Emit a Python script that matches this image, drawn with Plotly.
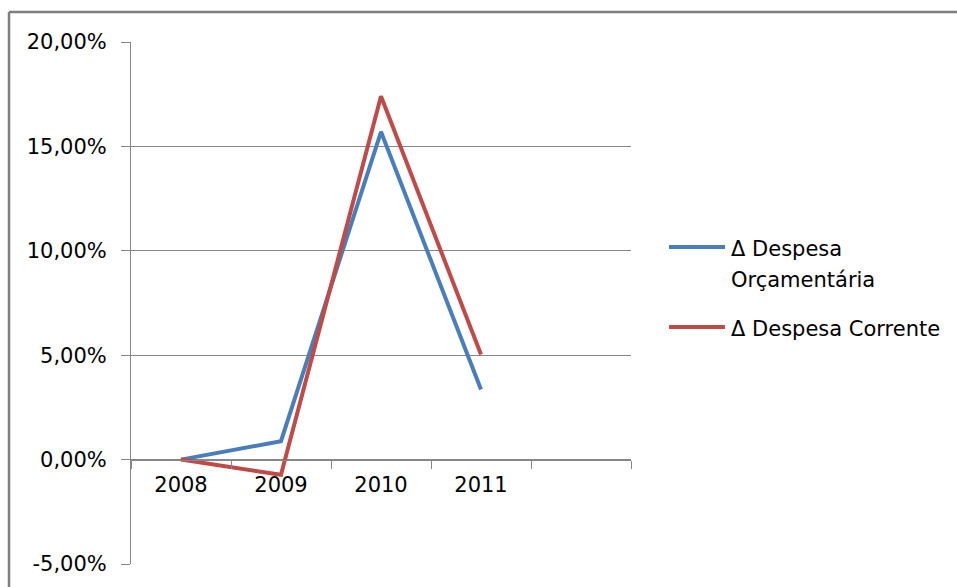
import plotly.graph_objects as go

# Years and percentage variations (fractions)
years = ["2008", "2009", "2010", "2011", " "]
orcamentaria = [0.0, 0.0088, 0.157, 0.0336]
corrente = [0.0, -0.0073, 0.174, 0.0503]

series_names = ["\u0394 Despesa Or\u00e7ament\u00e1ria", "\u0394 Despesa Corrente"]
series_colors = ["#4A7EBB", "#BE4B48"]

y_ticks = [-0.05, 0.0, 0.05, 0.10, 0.15, 0.20]
y_ticktext = [f"{v * 100:.2f}%".replace(".", ",") for v in y_ticks]

FONT = "DejaVu Sans"
FS = 21
GRID = "#868686"

fig = go.Figure()
for name, vals, col in zip(series_names, [orcamentaria, corrente], series_colors):
    fig.add_trace(go.Scatter(
        x=years[:len(vals)], y=vals, mode="lines", name=name,
        line=dict(color=col, width=4), showlegend=False,
    ))

W, H = 957, 587
L, R, T, B = 131, 326, 42, 23
pw, ph = W - L - R, H - T - B

def px_x(x):
    return (x - L) / pw

def px_y(y):
    return (H - B - y) / ph

fig.update_layout(
    width=W, height=H,
    margin=dict(l=L, r=R, t=T, b=B),
    paper_bgcolor="white", plot_bgcolor="white",
    font=dict(family=FONT, size=FS, color="black"),
    xaxis=dict(
        type="category", categoryorder="array", categoryarray=years,
        range=[-0.5, 4.5], tickson="boundaries",
        ticks="outside", ticklen=8, tickcolor=GRID, tickwidth=1,
        showline=True, linecolor=GRID, linewidth=1,
        showgrid=False, anchor="free",
        position=(0 - y_ticks[0]) / (y_ticks[-1] - y_ticks[0]),
        ticklabelstandoff=6, fixedrange=True,
    ),
    yaxis=dict(
        range=[y_ticks[0], y_ticks[-1]], tickvals=y_ticks, ticktext=y_ticktext,
        ticks="outside", ticklen=9, tickcolor=GRID, tickwidth=1,
        showgrid=True, gridcolor=GRID, gridwidth=1, zeroline=False,
        showline=True, linecolor=GRID, linewidth=1,
        ticklabelstandoff=10, fixedrange=True,
    ),
)

# Chart frame (top and left edges of the chart area)
frame = dict(color="#7f7f7f", width=2.5)
fig.add_shape(type="line", xref="paper", yref="paper",
              x0=px_x(9), x1=px_x(W), y0=px_y(12), y1=px_y(12), line=frame)
fig.add_shape(type="line", xref="paper", yref="paper",
              x0=px_x(9), x1=px_x(9), y0=px_y(12), y1=px_y(H), line=frame)

# Legend drawn at the right of the plot
legend_rows = [
    (247, [series_names[0].rsplit(" ", 1)[0], series_names[0].rsplit(" ", 1)[1]]),
    (327, [series_names[1]]),
]
for (ly, lines), col in zip(legend_rows, series_colors):
    fig.add_shape(type="line", xref="paper", yref="paper",
                  x0=px_x(669), x1=px_x(725), y0=px_y(ly), y1=px_y(ly),
                  line=dict(color=col, width=4))
    for i, txt in enumerate(lines):
        fig.add_annotation(xref="paper", yref="paper", x=px_x(729),
                           y=px_y(ly + 2 + 31 * i), text=txt, showarrow=False,
                           xanchor="left", yanchor="middle",
                           font=dict(family=FONT, size=FS, color="black"))

fig.write_html("out.html", config={"displayModeBar": False})
